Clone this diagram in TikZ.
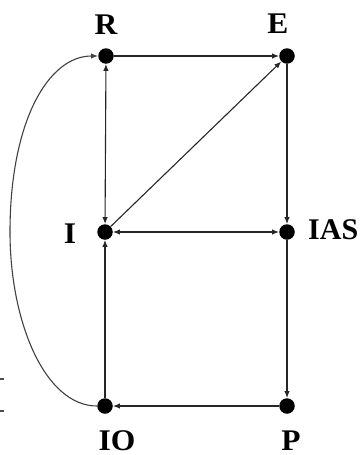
\documentclass[tikz,border=0pt]{standalone}
\usepackage{fontspec}
\usepackage{graphicx}
\setmainfont{Liberation Serif}
\usetikzlibrary{arrows.meta}
\begin{document}
\begin{tikzpicture}[x=1pt,y=-1pt,
  vtx/.style={circle,fill=black,inner sep=0pt,minimum size=15.5pt},
  lbl/.style={anchor=base,inner sep=0pt,font=\fontsize{30}{30}\selectfont\bfseries},
  edge/.style={line width=1.1pt,draw=black!85,-{Latex[length=7pt,width=5.5pt]}},
  bedge/.style={line width=1.1pt,draw=black!85,{Latex[length=7pt,width=5.5pt]}-{Latex[length=7pt,width=5.5pt]}},
  curveedge/.style={line width=1.1pt,draw=black!75,-{Latex[length=7pt,width=5.5pt]}}]
\useasboundingbox (0,0) rectangle (362,455);
% vertices
\node[vtx] (R) at (106,56) {};
\node[vtx] (E) at (287,56) {};
\node[vtx] (I) at (105,232) {};
\node[vtx] (IAS) at (287,232) {};
\node[vtx] (IO) at (105,406) {};
\node[vtx] (P) at (287,406) {};
% labels
\node[lbl] (lR) at (106,34) {\scalebox{1.05}[1]{R}};
\node[lbl] (lE) at (278,33) {\scalebox{1.05}[1]{E}};
\node[lbl] (lI) at (70,243) {\scalebox{1.05}[1]{I}};
\node[lbl,anchor=base west] (lIAS) at (308,239) {IAS};
\node[lbl] (lIO) at (117,450) {\scalebox{1.05}[1]{IO}};
\node[lbl] (lP) at (291,450) {\scalebox{1.05}[1]{P}};
% connectors
\draw[edge] (R) -- (E);
\draw[bedge] (R) -- (I);
\draw[edge] (I) -- (E);
\draw[bedge] (I) -- (IAS);
\draw[edge] (E) -- (IAS);
\draw[edge] (IAS) -- (P);
\draw[edge] (P) -- (IO);
\draw[edge] (IO) -- (I);
\coordinate (M) at (10,232);
\draw[curveedge] (IO) .. controls (45,406) and (10,322) .. (M)
  .. controls (10,122) and (48,56) .. (R);
% edge marks
\coordinate (t1a) at (0,379); \coordinate (t1b) at (4,379);
\coordinate (t2a) at (0,411); \coordinate (t2b) at (4,411);
\draw[line width=1.2pt,black!70] (t1a) -- (t1b);
\draw[line width=1.2pt,black!70] (t2a) -- (t2b);
\end{tikzpicture}
\end{document}
